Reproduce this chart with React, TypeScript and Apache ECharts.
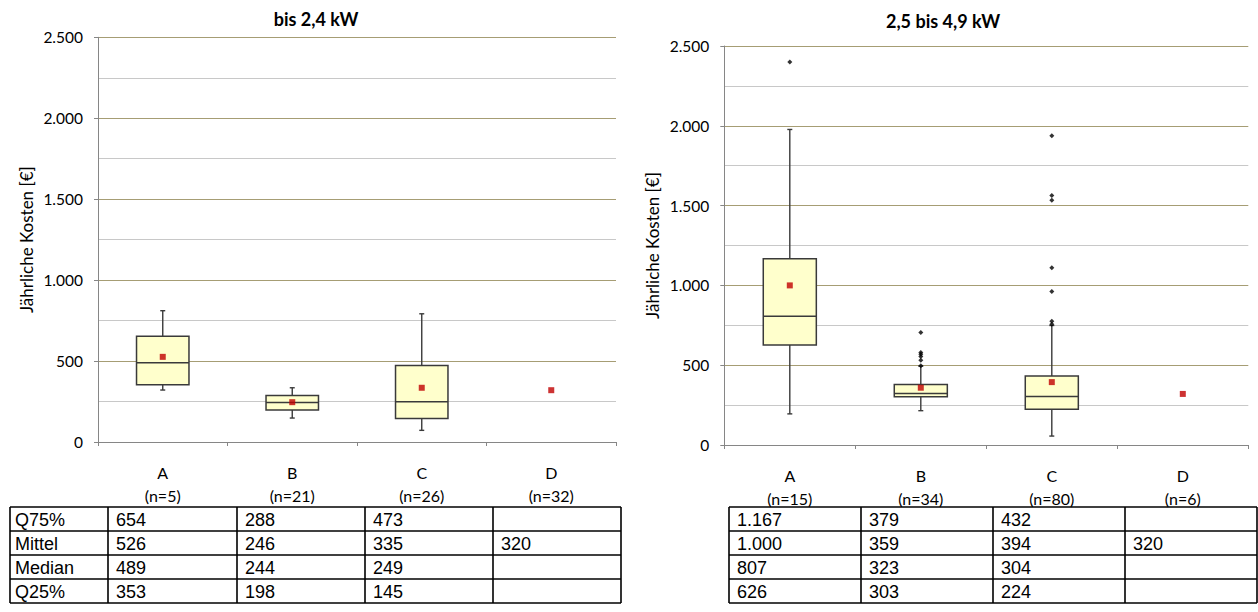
import React, { useEffect, useRef } from "react";
import * as echarts from "echarts";

const categories = ["A", "B", "C", "D"];
const nLeft = [5, 21, 26, 32];
const nRight = [15, 34, 80, 6];

// left chart: bis 2,4 kW
const q75Left = [654, 288, 473, null];
const meanLeft = [526, 246, 335, 320];
const medianLeft = [489, 244, 249, null];
const q25Left = [353, 198, 145, null];
const lowLeft = [321, 148, 72, null];
const highLeft = [811, 335, 792, null];

// right chart: 2,5 bis 4,9 kW
const q75Right = [1167, 379, 432, null];
const meanRight = [1000, 359, 394, 320];
const medianRight = [807, 323, 304, null];
const q25Right = [626, 303, 224, null];
const lowRight = [195, 215, 56, null];
const highRight = [1977, 494, 749, null];
const outliersRight: [number, number][] = [
  [0, 2400],
  [1, 705], [1, 580], [1, 569], [1, 554], [1, 531], [1, 497],
  [2, 1937], [2, 1563], [2, 1533], [2, 1111], [2, 962], [2, 776], [2, 757],
];

const rowLabels = ["Q75%", "Mittel", "Median", "Q25%"];

const fmt = (v: number | null) =>
  v == null ? "" : String(Math.round(v)).replace(/\B(?=(\d{3})+(?!\d))/g, ".");

const boxData = (lo: any[], q1: any[], med: any[], q3: any[], hi: any[]) =>
  categories
    .map((_, i) => [i, lo[i], q1[i], med[i], q3[i], hi[i]])
    .filter((d) => d[1] != null);

const EDGE = "#3a3a3a";

function renderBox(params: any, api: any) {
  const x = api.value(0);
  const pLow = api.coord([x, api.value(1)]);
  const pQ1 = api.coord([x, api.value(2)]);
  const pMed = api.coord([x, api.value(3)]);
  const pQ3 = api.coord([x, api.value(4)]);
  const pHigh = api.coord([x, api.value(5)]);
  const band = api.size([1, 0])[0];
  const w = band * 0.405;
  const cx = pMed[0];
  const lineStyle = { stroke: EDGE, lineWidth: 1.4 };
  return {
    type: "group",
    children: [
      { type: "line", shape: { x1: cx, y1: pLow[1], x2: cx, y2: pQ1[1] }, style: lineStyle },
      { type: "line", shape: { x1: cx, y1: pQ3[1], x2: cx, y2: pHigh[1] }, style: lineStyle },
      { type: "line", shape: { x1: cx - 2.5, y1: pLow[1], x2: cx + 2.5, y2: pLow[1] }, style: lineStyle },
      { type: "line", shape: { x1: cx - 2.5, y1: pHigh[1], x2: cx + 2.5, y2: pHigh[1] }, style: lineStyle },
      {
        type: "rect",
        shape: { x: cx - w / 2, y: pQ3[1], width: w, height: pQ1[1] - pQ3[1] },
        style: { fill: "#FFFFCC", stroke: EDGE, lineWidth: 1.5 },
      },
      { type: "line", shape: { x1: cx - w / 2, y1: pMed[1], x2: cx + w / 2, y2: pMed[1] }, style: { stroke: EDGE, lineWidth: 1.5 } },
    ],
  };
}

function tableGraphics(cols: number[], withLabels: boolean, cols4: (number | null)[][]) {
  const rows = [507, 531, 555, 579, 603];
  const els: any[] = [];
  const ls = { stroke: "#000", lineWidth: 1.6 };
  rows.forEach((y) =>
    els.push({ type: "line", shape: { x1: cols[0], y1: y, x2: cols[cols.length - 1], y2: y }, style: ls })
  );
  cols.forEach((x) =>
    els.push({ type: "line", shape: { x1: x, y1: rows[0], x2: x, y2: rows[rows.length - 1] }, style: ls })
  );
  for (let r = 0; r < 4; r++) {
    const yc = (rows[r] + rows[r + 1]) / 2 + 1;
    let c0 = 0;
    if (withLabels) {
      els.push({
        type: "text",
        x: cols[0] + 5,
        y: yc,
        style: { text: rowLabels[r], fontSize: 18, fontFamily: "Liberation Sans, Arial", fill: "#000", align: "left", verticalAlign: "middle" },
      });
      c0 = 1;
    }
    for (let c = 0; c < 4; c++) {
      const v = cols4[r][c];
      if (v == null) continue;
      els.push({
        type: "text",
        x: cols[c0 + c] + 8,
        y: yc,
        style: { text: fmt(v), fontSize: 18, fontFamily: "Liberation Sans, Arial", fill: "#000", align: "left", verticalAlign: "middle" },
      });
    }
  }
  return els;
}

export default function App() {
  const ref = useRef<HTMLDivElement>(null);
  useEffect(() => {
    if (!ref.current) return;
    const chart = echarts.init(ref.current, undefined, { renderer: "svg" });
    const font = "Lato";
    const yAxisCommon = (gridIndex: number) => ({
      type: "value",
      gridIndex,
      min: 0,
      max: 2500,
      interval: 500,
      name: "Jährliche Kosten [€]",
      nameLocation: "middle",
      nameGap: 63,
      nameRotate: 90,
      nameTextStyle: { fontFamily: font, fontSize: 17, color: "#000" },
      axisLine: { show: true, lineStyle: { color: "#868686", width: 1 } },
      axisTick: { show: true, length: 4, lineStyle: { color: "#868686" } },
      axisLabel: {
        margin: 15,
        fontFamily: font,
        fontSize: 15.5,
        color: "#000",
        formatter: (v: number) => fmt(v),
      },
      splitLine: { show: true, lineStyle: { color: "#A69D74", width: 1 } },
      minorTick: { show: false, splitNumber: 2 },
      minorSplitLine: { show: true, lineStyle: { color: "#C8C8C8", width: 1 } },
    });
    const xAxisCommon = (gridIndex: number, ns: number[]) => ({
      type: "category",
      gridIndex,
      data: categories,
      boundaryGap: true,
      axisLine: { show: true, lineStyle: { color: "#868686", width: 1 } },
      axisTick: { show: true, length: 4, alignWithLabel: false, lineStyle: { color: "#868686" } },
      axisLabel: {
        margin: 19,
        interval: 0,
        formatter: (v: string, i: number) => `{a|${v}}\n{n|(n=${ns[i]})}`,
        rich: {
          a: { fontFamily: font, fontSize: 16, lineHeight: 23, color: "#000" },
          n: { fontFamily: font, fontSize: 16, lineHeight: 23, color: "#000" },
        },
      },
      splitLine: { show: false },
    });

    const option: any = {
      animation: false,
      grid: [
        { left: 98, top: 37.3, width: 518, height: 404.7 },
        { left: 724.3, top: 46, width: 524, height: 399 },
      ],
      xAxis: [xAxisCommon(0, nLeft), xAxisCommon(1, nRight)],
      yAxis: [yAxisCommon(0), yAxisCommon(1)],
      series: [
        {
          type: "custom",
          xAxisIndex: 0,
          yAxisIndex: 0,
          renderItem: renderBox,
          data: boxData(lowLeft, q25Left, medianLeft, q75Left, highLeft),
          z: 3,
        },
        {
          type: "custom",
          xAxisIndex: 1,
          yAxisIndex: 1,
          renderItem: renderBox,
          data: boxData(lowRight, q25Right, medianRight, q75Right, highRight),
          z: 3,
        },
        {
          type: "scatter",
          xAxisIndex: 1,
          yAxisIndex: 1,
          symbol: "diamond",
          symbolSize: 5,
          itemStyle: { color: "#000" },
          data: outliersRight,
          z: 4,
        },
        {
          type: "scatter",
          xAxisIndex: 0,
          yAxisIndex: 0,
          symbol: "rect",
          symbolSize: 6,
          itemStyle: { color: "#C00000" },
          data: meanLeft.map((v, i) => [i, v]),
          z: 5,
        },
        {
          type: "scatter",
          xAxisIndex: 1,
          yAxisIndex: 1,
          symbol: "rect",
          symbolSize: 6,
          itemStyle: { color: "#C00000" },
          data: meanRight.map((v, i) => [i, v]),
          z: 5,
        },
      ],
      graphic: [
        {
          type: "text",
          x: 316,
          y: 19,
          style: { text: "bis 2,4 kW", fontFamily: font, fontSize: 18, fontWeight: "bold", fill: "#000", align: "center", verticalAlign: "middle" },
        },
        {
          type: "text",
          x: 943,
          y: 21,
          style: { text: "2,5 bis 4,9 kW", fontFamily: font, fontSize: 18, fontWeight: "bold", fill: "#000", align: "center", verticalAlign: "middle" },
        },
        ...tableGraphics([10, 108, 237, 365, 493, 621], true, [q75Left, meanLeft, medianLeft, q25Left]),
        ...tableGraphics([729, 861, 993, 1125, 1257], false, [q75Right, meanRight, medianRight, q25Right]),
      ],
    };
    chart.setOption(option);
    return () => chart.dispose();
  }, []);
  return (
    <div
      ref={ref}
      style={{ position: "absolute", left: 0, top: 0, width: 1258, height: 612, background: "#fff" }}
    />
  );
}
